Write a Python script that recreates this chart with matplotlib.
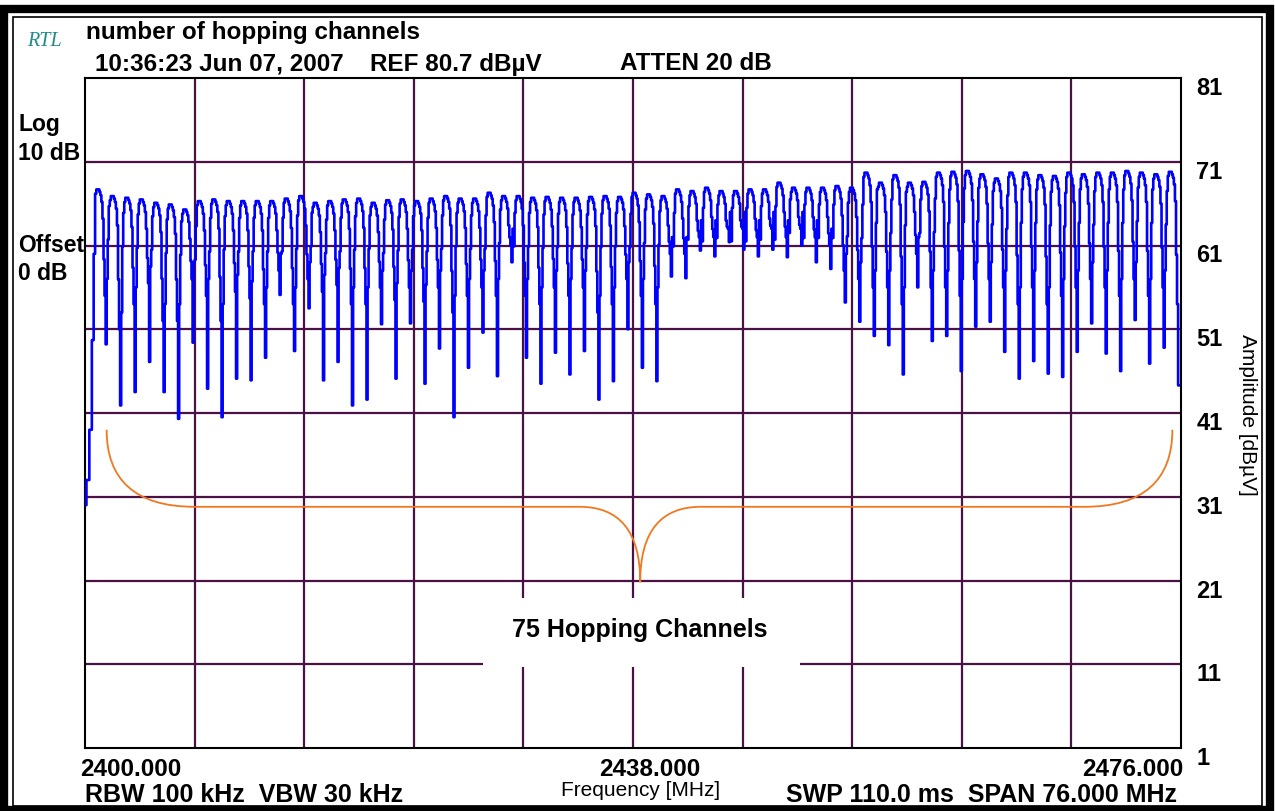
import numpy as np
import matplotlib
matplotlib.use('Agg')
import matplotlib.pyplot as plt
from matplotlib.patches import Rectangle, PathPatch
from matplotlib.path import Path
import matplotlib.transforms as mtransforms

# Spectrum analyser screen shot: 2.4 GHz band, 75 hopping channels
# levels per channel (dBuV)
chan_peak = [67.7, 66.9, 66.7, 66.5, 66.1, 65.9, 65.3, 66.3, 66.5, 66.3,
             66.3, 66.3, 66.3, 66.6, 66.9, 66.1, 66.3, 66.5, 66.6, 66.1,
             66.4, 66.5, 66.3, 66.6, 66.9, 66.6, 66.6, 67.3, 66.9, 66.9,
             66.7, 66.8, 66.7, 66.7, 66.8, 66.9, 66.8, 67.3, 67.1, 66.9,
             67.7, 67.5, 67.9, 67.5, 67.5, 67.7, 67.7, 68.5, 67.9, 67.9,
             67.9, 68.1, 67.9, 69.7, 68.5, 69.4, 68.5, 68.6, 69.7, 69.8,
             69.9, 69.5, 69.0, 69.7, 69.7, 69.4, 69.3, 69.7, 69.5, 69.7,
             69.7, 69.9, 69.7, 69.5, 69.8]
chan_shoulder = [55.0, 51.0, 54.0, 56.5, 52.0, 52.0, 57.0, 55.0, 52.0, 55.5,
                 54.7, 54.0, 58.0, 54.0, 57.0, 55.5, 56.3, 54.0, 54.0, 56.0,
                 54.5, 56.0, 54.3, 56.0, 53.0, 55.0, 56.0, 55.0, 61.0, 55.0,
                 54.0, 56.0, 55.0, 56.0, 53.0, 54.0, 57.0, 55.0, 54.0, 60.0,
                 60.0, 62.0, 62.0, 63.0, 63.0, 62.0, 63.0, 62.0, 63.0, 62.0,
                 61.0, 58.0, 57.0, 56.0, 56.0, 54.0, 60.0, 56.0, 56.0, 55.0,
                 57.0, 57.0, 56.0, 54.0, 56.0, 54.0, 55.0, 56.0, 57.0, 56.0,
                 55.0, 57.0, 55.0, 56.0, 54.0]
chan_dip = [49.2, 41.9, 43.5, 47.1, 43.5, 40.3, 49.4, 43.9, 40.5, 45.1,
            44.9, 47.6, 55.1, 48.4, 53.5, 44.9, 47.1, 41.9, 42.6, 51.6,
            45.1, 51.7, 44.5, 48.7, 40.5, 46.4, 50.6, 45.4, 59.0, 47.6,
            44.5, 48.2, 45.6, 48.4, 42.6, 44.8, 51.0, 46.4, 44.8, 57.3,
            57.1, 60.4, 59.7, 61.4, 60.5, 59.7, 60.5, 59.6, 61.0, 59.0,
            58.2, 54.2, 51.9, 50.2, 49.1, 45.6, 56.0, 49.6, 50.2, 46.0,
            51.3, 51.9, 48.3, 45.1, 47.2, 45.7, 45.3, 48.3, 51.7, 48.1,
            46.0, 52.1, 46.9, 48.8, 44.3]
first_peak_mhz = 2400.75
chan_step_mhz = 1.005

# start of the trace (sweep begins below the channels)
lead_freq = [2400.0, 2400.2, 2400.4, 2400.55, 2400.65]
lead_amp = [30.0, 33.0, 39.0, 49.7, 60.0]

amp_ticks = [1, 11, 21, 31, 41, 51, 61, 71, 81]
freq_ticks = [2400.0, 2438.0, 2476.0]
freq_labels = ['2400.000', '2438.000', '2476.000']
freq_grid = [2407.6, 2415.2, 2422.8, 2430.4, 2438.0, 2445.6, 2453.2, 2460.8, 2468.4]

# build the swept trace: broad hump, stepped fall, narrow notch, fast rise
offs = [0.0, 0.07, 0.14, 0.21, 0.28, 0.35, 0.42, 0.50, 0.57, 0.64, 0.72, 0.79, 0.86, 0.93]
freq = list(lead_freq)
amp = list(lead_amp)
for k in range(len(chan_peak)):
    p = first_peak_mhz + k * chan_step_mhz
    pk, sh, dp = chan_peak[k], chan_shoulder[k], chan_dip[k]
    freq += [p + o for o in offs]
    amp += [pk - 0.5, pk, pk, pk, pk - 0.3, pk - 0.7, pk - 1.5, pk - 3.5,
            (pk + sh) / 2 - 2, sh, dp, sh + 2, pk - 6, pk - 2]
freq = np.array(freq[:-3])
amp = np.array(amp[:-3])

W, H = 1275, 811
fig = plt.figure(figsize=(W / 100, H / 100), dpi=100)
ax = fig.add_axes([85 / W, 1 - 748 / H, (1181 - 85) / W, (748 - 78) / H])

grid_col = '#4a1244'
for f in freq_grid:
    ax.axvline(f, color=grid_col, lw=1.6, zorder=1)
for v in amp_ticks[1:-1]:
    ax.axhline(v, color=grid_col, lw=1.6, zorder=1)

ax.plot(freq, amp, color='#0000ff', lw=1.9, drawstyle='steps-mid', zorder=3)

# orange brace under the channels
brace_col = '#f07820'
verts = [(2401.5, 39.0), (2401.5, 33.0), (2403.5, 29.8), (2407.6, 29.8),
         (2434.3, 29.8),
         (2437.0, 29.8), (2438.5, 27.0), (2438.5, 20.8),
         (2438.5, 27.0), (2440.0, 29.8), (2442.7, 29.8),
         (2469.3, 29.8),
         (2473.4, 29.8), (2475.4, 33.0), (2475.4, 39.0)]
codes = [Path.MOVETO, Path.CURVE4, Path.CURVE4, Path.CURVE4,
         Path.LINETO,
         Path.CURVE4, Path.CURVE4, Path.CURVE4,
         Path.CURVE4, Path.CURVE4, Path.CURVE4,
         Path.LINETO,
         Path.CURVE4, Path.CURVE4, Path.CURVE4]
ax.add_patch(PathPatch(Path(verts, codes), fill=False, edgecolor=brace_col, lw=1.3, zorder=2))

# white label box
ax.add_patch(Rectangle((2427.6, 10.7), 22.0, 8.2, facecolor='white', edgecolor='none', zorder=4))
ax.text(2438.5, 15.1, '75 Hopping Channels', ha='center', va='center',
        fontsize=18, weight='bold', family='Liberation Sans', zorder=5)

ax.set_xlim(2400, 2476)
ax.set_ylim(1, 81)
for s in ax.spines.values():
    s.set_color('black')
    s.set_linewidth(1.5)

ax.yaxis.tick_right()
ax.set_yticks(amp_ticks)
ax.set_yticklabels([str(v) for v in amp_ticks], fontsize=17, weight='bold', family='Liberation Sans')
ax.tick_params(axis='y', length=0, pad=11)
shift = mtransforms.ScaledTranslation(0, -8 / 100, fig.dpi_scale_trans)
for lab in ax.get_yticklabels():
    lab.set_transform(lab.get_transform() + shift)

ax.set_xticks(freq_ticks)
ax.set_xticklabels(freq_labels, fontsize=17.5, weight='bold', family='Liberation Sans')
ax.tick_params(axis='x', length=0, pad=7)
xl = ax.get_xticklabels()
xl[0].set_ha('left')
xl[2].set_ha('right')
xl[0].set_transform(xl[0].get_transform() + mtransforms.ScaledTranslation(-5 / 100, 0, fig.dpi_scale_trans))
xl[1].set_transform(xl[1].get_transform() + mtransforms.ScaledTranslation(17 / 100, 0, fig.dpi_scale_trans))
xl[2].set_transform(xl[2].get_transform() + mtransforms.ScaledTranslation(2 / 100, 0, fig.dpi_scale_trans))


def put(x, y, s, **kw):
    kw.setdefault('family', 'Liberation Sans')
    kw.setdefault('va', 'center')
    fig.text(x / W, 1 - y / H, s, **kw)


put(27, 42, 'RTL', family='Liberation Serif', style='italic', color='#1f8c8c', fontsize=14.5)
put(86, 33, 'number of hopping channels', fontsize=17.5, weight='bold')
put(95, 64, '10:36:23 Jun 07, 2007', fontsize=17.5, weight='bold')
put(370, 64, 'REF 80.7 dBµV', fontsize=17.5, weight='bold')
put(620, 64, 'ATTEN 20 dB', fontsize=17.5, weight='bold')
put(18, 125, 'Log', fontsize=16.5, weight='bold')
put(18, 153, '10 dB', fontsize=16.5, weight='bold')
put(18, 245, 'Offset', fontsize=16.5, weight='bold')
put(18, 273, '0 dB', fontsize=16.5, weight='bold')
put(1248, 415, 'Amplitude [dBµV]', fontsize=15, rotation=270, ha='center')
put(85, 795, 'RBW 100 kHz  VBW 30 kHz', fontsize=18, weight='bold')
put(641, 791, 'Frequency [MHz]', fontsize=15, ha='center')
put(1177, 795, 'SWP 110.0 ms  SPAN 76.000 MHz', fontsize=18, weight='bold', ha='right')

# instrument screen frame: heavy outer border with a thin inner line
fig.patches.append(Rectangle((4 / W, 1 / H), 1 - 9 / W, 1 - 10 / H, transform=fig.transFigure,
                             fill=False, edgecolor='black', lw=6))
fig.patches.append(Rectangle((12.5 / W, 5.5 / H), 1 - 26 / W, 1 - 22 / H, transform=fig.transFigure,
                             fill=False, edgecolor='black', lw=1.2))

plt.savefig('out.png', dpi=100)
plt.close()
